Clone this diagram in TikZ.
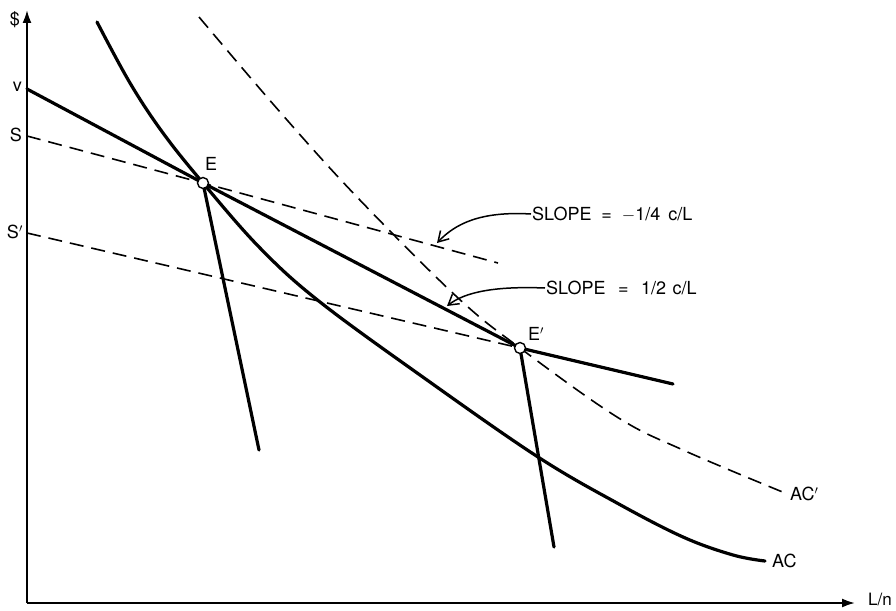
\documentclass[tikz,border=0pt]{standalone}
\usepackage{fontspec}
\setmainfont{TeX Gyre Heros}
\usetikzlibrary{arrows.meta}
\begin{document}
\begin{tikzpicture}[x=1pt,y=-1pt,
  heavy/.style={line width=3.2pt,line cap=round},
  dashline/.style={line width=1.6pt,dash pattern=on 14pt off 8pt},
  axisline/.style={line width=2pt,-{Latex[length=13pt,width=9pt]}},
  pt/.style={circle,draw,fill=white,line width=1.4pt,inner sep=0pt,minimum size=11pt},
  lbl/.style={font=\fontsize{18}{20}\selectfont,inner sep=1pt},
  callout/.style={line width=1.5pt,-{Straight Barb[length=10pt,width=12pt]}}]
\useasboundingbox (0,0) rectangle (896,610);
% axes
\coordinate (O) at (27,603);
\coordinate (Ytop) at (27,10);
\coordinate (Xend) at (855,603);
\draw[axisline] (O) -- (Ytop);
\draw[axisline] (O) -- (Xend);
\node[lbl,anchor=east] (dollar) at (21,20) {\$};
\node[anchor=base east,inner sep=1pt,font=\fontsize{17}{19}\selectfont] (Ln) at (893,605) {L/n};
% axis points
\coordinate (v) at (27,89);
\coordinate (S) at (27,136);
\coordinate (Sp) at (27,233);
\node[lbl,anchor=east] (vl) at (23,87) {v};
\node[lbl,anchor=east] (Sl) at (23,135) {S};
\node[lbl,anchor=east] (Spl) at (24,232) {S$'$};
% key points
\coordinate (E) at (203,183);
\coordinate (Ep) at (520,348);
\coordinate (Send) at (498,263);
\coordinate (Eprt) at (673,384);
\coordinate (Ebot) at (259,450);
\coordinate (Epbot) at (554,547);
% curves
\draw[heavy] plot[smooth,tension=0.6] coordinates {(97,22) (130,83) (163,133) (203,183) (260,248) (320,302) (427,380) (538,457) (617,503) (683,537) (733,555) (765,561)};
\draw[dashline] plot[smooth,tension=0.6] coordinates {(199,17) (280,112) (357,197) (457,297) (520,348) (617,417) (683,450) (785,493)};
% lines
\draw[dashline] (S) -- (E) -- (Send);
\draw[dashline] (Sp) -- (Ep);
\draw[heavy] (v) -- (E) -- (Ep) -- (Eprt);
\draw[heavy] (E) -- (Ebot);
\draw[heavy] (Ep) -- (Epbot);
% points
\node[pt] (Enode) at (E) {};
\node[pt] (Epnode) at (Ep) {};
\node[lbl] (El) at (211,164) {E};
\node[lbl] (Epl) at (536,334) {E$'$};
% curve labels
\node[lbl,anchor=west] (ACp) at (789,494) {AC$'$};
\node[lbl,anchor=west] (AC) at (771,561) {AC};
% slope labels
\node[lbl,anchor=west] (s1) at (531,214) {SLOPE\hspace{0.55em}=\hspace{0.55em}$-$1/4\hspace{0.45em}c/L};
\node[lbl,anchor=west] (s2) at (545,288) {SLOPE\hspace{0.7em}=\hspace{0.7em}1/2\hspace{0.35em}c/L};
\coordinate (t1) at (437,243);
\coordinate (t2) at (447,306);
\draw[callout] (s1.west) .. controls (480,211) and (455,224) .. (t1);
\draw[callout] (s2.west) .. controls (495,286) and (465,292) .. (t2);
\end{tikzpicture}
\end{document}
